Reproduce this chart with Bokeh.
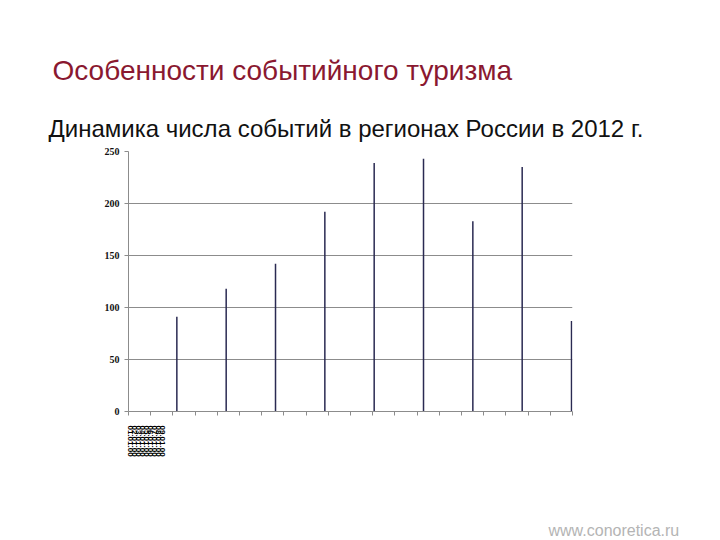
import numpy as np
from bokeh.plotting import figure
from bokeh.layouts import column
from bokeh.models import FixedTicker, Range1d
from bokeh.embed import file_html
from bokeh.resources import INLINE
from bokeh.core.properties import value

# ---- data ----
positions = [1, 2, 3, 4, 5, 6, 7, 8, 9]
events = [91, 118, 142, 192, 239, 243, 183, 235, 87]
y_ticks = [0, 50, 100, 150, 200, 250]
x_tick_labels = ["01.01.00", "02.01.00", "03.01.00", "04.01.00", "05.01.00",
                 "06.01.00", "07.01.00", "08.01.00", "09.01.00"]
x_label_pos = [0.06, 0.14, 0.22, 0.30, 0.38, 0.46, 0.54, 0.62, 0.70]
title_text = "Особенности событийного туризма"
subtitle_text = "Динамика числа событий в регионах России в 2012 г."
footer_text = "www.conoretica.ru"

W = 712
HEAD_H = 143
FL, FW, FH = 128, 444, 260
CH_TOP, CH_BOTTOM = 8, 89
FOOT_H = 38

def blank(h):
    f = figure(width=W, height=h, output_backend="svg", toolbar_location=None,
               x_range=Range1d(0, W), y_range=Range1d(h, 0),
               min_border=0, frame_align=False)
    f.axis.visible = False
    f.grid.visible = False
    f.outline_line_color = None
    f.background_fill_color = "white"
    f.border_fill_color = "white"
    return f

# header with titles
head = blank(HEAD_H)
head.text(x=[52], y=[70], text=[title_text], text_font=value("Liberation Sans"),
          text_font_size="28px", text_color="#8a1830", text_baseline="alphabetic")
head.text(x=[48], y=[128], text=[subtitle_text], text_font=value("Liberation Sans"),
          text_font_size="24px", text_color="#111111", text_baseline="alphabetic")

# main chart
p = figure(width=W, height=CH_TOP + FH + CH_BOTTOM, output_backend="svg",
           toolbar_location=None, frame_align=False,
           x_range=Range1d(0.02, 9.02), y_range=Range1d(0, 250),
           min_border_left=FL, min_border_right=W - FL - FW,
           min_border_top=CH_TOP, min_border_bottom=CH_BOTTOM)
p.outline_line_color = None
p.background_fill_color = "white"
p.border_fill_color = "white"

p.segment(x0=positions, y0=[0]*len(events), x1=positions, y1=events,
          line_color="#2a2a52", line_width=1.5)

p.yaxis.ticker = FixedTicker(ticks=y_ticks)
p.yaxis.axis_line_color = "#8c8c8c"
p.yaxis.major_tick_line_color = "#8c8c8c"
p.yaxis.major_tick_in = 0
p.yaxis.major_tick_out = 4
p.yaxis.minor_tick_line_color = None
p.yaxis.major_label_text_font = "Liberation Serif"
p.yaxis.major_label_text_font_style = "bold"
p.yaxis.major_label_text_font_size = "10px"
p.yaxis.major_label_text_color = "#111111"

p.xaxis.ticker = FixedTicker(ticks=x_label_pos,
                             minor_ticks=[round(v, 2) for v in np.arange(0.02, 9.03, 0.45)])
p.xaxis.axis_line_color = "#8c8c8c"
p.xaxis.major_tick_line_color = None
p.xaxis.minor_tick_line_color = "#8c8c8c"
p.xaxis.minor_tick_in = 0
p.xaxis.minor_tick_out = 4
p.xaxis.major_label_overrides = {v: t for v, t in zip(x_label_pos, x_tick_labels)}
p.xaxis.major_label_orientation = "vertical"
p.xaxis.major_label_standoff = 8
p.xaxis.major_label_text_font = "Liberation Sans"
p.xaxis.major_label_text_font_style = "bold"
p.xaxis.major_label_text_font_size = "8px"
p.xaxis.major_label_text_color = "#000000"

p.xgrid.grid_line_color = None
p.ygrid.grid_line_color = "#8c8c8c"
p.ygrid.grid_line_width = 1

# footer
foot = blank(FOOT_H)
foot.text(x=[548], y=[30], text=[footer_text], text_font=value("Liberation Sans"),
          text_font_size="16px", text_color="#b4b4b4", text_baseline="alphabetic")

layout = column(head, p, foot, spacing=0)
open("out.html", "w").write(file_html(layout, INLINE))
